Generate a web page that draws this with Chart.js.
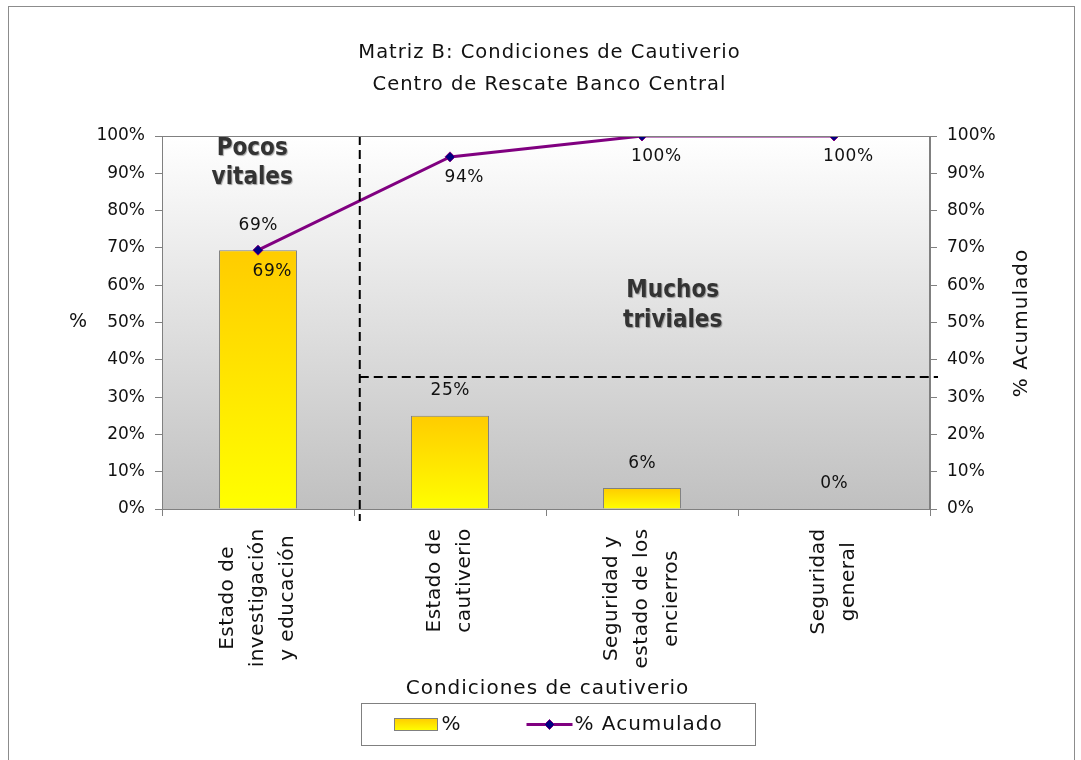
<!DOCTYPE html>
<html>
<head>
<meta charset="utf-8">
<script src="https://cdn.jsdelivr.net/npm/chart.js@4.4.0/dist/chart.umd.min.js"></script>
<style>
    html, body { margin: 0; padding: 0; background: #fff; overflow: hidden; }
    #frame {
        position: absolute; left: 8px; top: 6px;
        width: 1065px; height: 800px;
        border: 1px solid #8c8c8c;
    }
    #wrap { position: absolute; left: 0; top: 0; width: 1081px; height: 760px; }
</style>
</head>
<body>
<div id="frame"></div>
<div id="wrap"><canvas id="chart" width="1081" height="760"></canvas></div>
<script>
// datos del diagrama de Pareto
const titleLines = ['Matriz B: Condiciones de Cautiverio', 'Centro de Rescate Banco Central'];
const xTitle = 'Condiciones de cautiverio';
const categories = [
    ['Estado de', 'investigación', 'y educación'],
    ['Estado de', 'cautiverio'],
    ['Seguridad y', 'estado de los', 'encierros'],
    ['Seguridad', 'general']
];
const percentValues = [69.4, 25.0, 5.6, 0.0];
const cumulativeValues = [69.4, 94.4, 100, 100];
const yTicks = [0, 10, 20, 30, 40, 50, 60, 70, 80, 90, 100];

const FONT = "'DejaVu Sans', sans-serif";
const TEXT = '#111';
const AXIS = '#808080';

// posiciones de las notas (en unidades de los ejes)
const cutIndex = 0.53;      // linea vertical entre pocos vitales / muchos triviales
const cutValue = 35.4;      // linea horizontal

const pct = v => Math.round(v) + '%';

function barGradient(ctx) {
    const chart = ctx.chart;
    if (!chart.chartArea || ctx.type !== 'data') return '#FFE000';
    const y = chart.scales.y;
    const top = y.getPixelForValue(ctx.raw);
    const bottom = y.getPixelForValue(0);
    if (bottom - top < 1) return '#FFFF00';
    const g = chart.ctx.createLinearGradient(0, top, 0, bottom);
    g.addColorStop(0, '#FFCC00');
    g.addColorStop(1, '#FFFF00');
    return g;
}

function drawText(ctx, text, x, y, font, spacing, angle) {
    ctx.save();
    ctx.font = font;
    ctx.letterSpacing = (spacing || 0) + 'px';
    ctx.fillStyle = TEXT;
    ctx.textAlign = 'center';
    ctx.textBaseline = 'middle';
    ctx.translate(x + (angle ? 0 : (spacing || 0) / 2), y + (angle ? (spacing || 0) / 2 : 0));
    if (angle) ctx.rotate(angle);
    ctx.fillText(text, 0, 0);
    ctx.restore();
}

const backgroundPlugin = {
    id: 'plotBackground',
    beforeDraw(chart) {
        const { ctx, chartArea: a } = chart;
        const g = ctx.createLinearGradient(0, a.top, 0, a.bottom);
        g.addColorStop(0, '#FFFFFF');
        g.addColorStop(1, '#C0C0C0');
        ctx.save();
        ctx.fillStyle = g;
        ctx.fillRect(a.left, a.top, a.right - a.left, a.bottom - a.top);
        ctx.restore();
    },
    afterDraw(chart) {
        const { ctx, chartArea: a } = chart;
        ctx.save();
        ctx.strokeStyle = AXIS;
        ctx.lineWidth = 1;
        ctx.strokeRect(a.left + 0.5, a.top + 0.5, a.right - a.left - 1, a.bottom - a.top);
        ctx.restore();
    }
};

const notesPlugin = {
    id: 'paretoNotes',
    afterDatasetsDraw(chart) {
        const { ctx, chartArea: a, scales } = chart;
        const x = scales.x, y = scales.y;
        const cutX = x.getPixelForValue(cutIndex);
        const cutY = y.getPixelForValue(cutValue);

        ctx.save();
        ctx.strokeStyle = '#000';
        ctx.lineWidth = 2;
        ctx.setLineDash([9, 5]);
        ctx.beginPath();
        ctx.moveTo(cutX, a.top);
        ctx.lineTo(cutX, a.bottom + 12);
        ctx.moveTo(cutX, cutY);
        ctx.lineTo(a.right + 8, cutY);
        ctx.stroke();
        ctx.restore();

        // etiquetas de barras y del acumulado
        const labelFont = '17px ' + FONT;
        chart.getDatasetMeta(0).data.forEach((bar, i) => {
            drawText(ctx, pct(percentValues[i]), bar.x, bar.y - 25, labelFont, 0.5);
        });
        chart.getDatasetMeta(1).data.forEach((pt, i) => {
            drawText(ctx, pct(cumulativeValues[i]), pt.x + 14, pt.y + 21, labelFont, 0.5);
        });

        // textos "Pocos vitales" / "Muchos triviales"
        ctx.save();
        ctx.font = "bold 24px 'DejaVu Sans Condensed', 'DejaVu Sans', sans-serif";
        ctx.fillStyle = '#333';
        ctx.textAlign = 'center';
        ctx.textBaseline = 'middle';
        ctx.shadowColor = 'rgba(0,0,0,0.35)';
        ctx.shadowOffsetX = 1;
        ctx.shadowOffsetY = 1;
        ctx.shadowBlur = 1;
        const px = x.getPixelForValue(-0.03);
        ctx.fillText('Pocos', px, y.getPixelForValue(96.5));
        ctx.fillText('vitales', px, y.getPixelForValue(88.7));
        const mx = x.getPixelForValue(2.16);
        ctx.fillText('Muchos', mx, y.getPixelForValue(58.5));
        ctx.fillText('triviales', mx, y.getPixelForValue(50.5));
        ctx.restore();
    },
    afterDraw(chart) {
        const { ctx, chartArea: a, scales } = chart;
        const xs = scales.x;
        const midY = (a.top + a.bottom) / 2;

        // titulo del grafico
        const titleFont = '19.5px ' + FONT;
        titleLines.forEach((t, i) => drawText(ctx, t, 549, 53 + i * 32, titleFont, 1));

        // etiquetas de categorias (giradas, lineas centradas)
        const catFont = '20px ' + FONT;
        const catSpacing = 0.5;
        ctx.save();
        ctx.font = catFont;
        ctx.letterSpacing = catSpacing + 'px';
        categories.forEach((lines, i) => {
            const px = xs.getPixelForTick(i);
            const maxW = Math.max(...lines.map(l => ctx.measureText(l).width));
            const cy = a.bottom + 19 + maxW / 2;
            lines.forEach((l, j) => {
                drawText(ctx, l, px + (j - (lines.length - 1) / 2) * 30, cy, catFont, catSpacing, -Math.PI / 2);
            });
        });
        ctx.restore();

        // titulos de ejes
        drawText(ctx, xTitle, (xs.left + xs.right) / 2 + 1, 689, '20px ' + FONT, 1);
        drawText(ctx, '%', scales.y.left + 60, midY, '19px ' + FONT, 0);
        drawText(ctx, '% Acumulado', scales.y2.right - 59, midY, '20px ' + FONT, 1, -Math.PI / 2);

        // leyenda
        const lx = 361.5, ly = 703.5, lw = 394, lh = 42;
        const cy = ly + lh / 2;
        ctx.save();
        ctx.strokeStyle = AXIS;
        ctx.lineWidth = 1;
        ctx.strokeRect(lx, ly, lw, lh);

        const sw = ctx.createLinearGradient(0, cy - 6, 0, cy + 6);
        sw.addColorStop(0, '#FFCC00');
        sw.addColorStop(1, '#FFFF00');
        ctx.fillStyle = sw;
        ctx.fillRect(lx + 33, cy - 6, 43, 12);
        ctx.strokeRect(lx + 33, cy - 6, 43, 12);

        ctx.strokeStyle = '#800080';
        ctx.lineWidth = 3;
        ctx.beginPath();
        ctx.moveTo(lx + 165, cy);
        ctx.lineTo(lx + 211, cy);
        ctx.stroke();
        ctx.fillStyle = '#000080';
        ctx.strokeStyle = '#800080';
        ctx.lineWidth = 1;
        ctx.beginPath();
        ctx.moveTo(lx + 188, cy - 5);
        ctx.lineTo(lx + 193, cy);
        ctx.lineTo(lx + 188, cy + 5);
        ctx.lineTo(lx + 183, cy);
        ctx.closePath();
        ctx.fill();
        ctx.stroke();
        ctx.restore();

        ctx.save();
        ctx.font = '20px ' + FONT;
        ctx.letterSpacing = '1px';
        ctx.fillStyle = TEXT;
        ctx.textAlign = 'left';
        ctx.textBaseline = 'middle';
        ctx.fillText('%', lx + 80, cy);
        ctx.fillText('% Acumulado', lx + 213, cy);
        ctx.restore();
    }
};

new Chart(document.getElementById('chart'), {
    type: 'bar',
    data: {
        labels: categories,
        datasets: [
            {
                label: '%',
                data: percentValues,
                backgroundColor: barGradient,
                borderColor: AXIS,
                borderWidth: 1,
                borderSkipped: 'bottom',
                categoryPercentage: 1,
                barPercentage: 0.406,
                yAxisID: 'y',
                order: 2
            },
            {
                type: 'line',
                label: '% Acumulado',
                data: cumulativeValues,
                borderColor: '#800080',
                borderWidth: 3,
                pointStyle: 'rectRot',
                pointRadius: 5,
                pointBackgroundColor: '#000080',
                pointBorderColor: '#800080',
                pointBorderWidth: 1,
                tension: 0,
                yAxisID: 'y2',
                order: 1
            }
        ]
    },
    options: {
        responsive: false,
        animation: false,
        layout: { padding: { left: 18, right: 0, top: 136, bottom: 57 } },
        plugins: {
            legend: { display: false },
            tooltip: { enabled: false },
            title: { display: false }
        },
        scales: {
            x: {
                grid: { drawOnChartArea: false, color: AXIS, tickLength: 7, offset: true },
                border: { color: AXIS },
                ticks: { display: false },
                afterFit(scale) { scale.height = 194; }
            },
            y: {
                position: 'left',
                min: 0,
                max: 100,
                afterBuildTicks(scale) { scale.ticks = yTicks.map(v => ({ value: v })); },
                grid: { drawOnChartArea: false, color: AXIS, tickLength: 7 },
                border: { color: AXIS },
                ticks: { color: TEXT, padding: 10, font: { family: FONT, size: 17 }, callback: v => v + '%' },
                afterFit(scale) { scale.width = 144; }
            },
            y2: {
                position: 'right',
                min: 0,
                max: 100,
                afterBuildTicks(scale) { scale.ticks = yTicks.map(v => ({ value: v })); },
                grid: { drawOnChartArea: false, color: AXIS, tickLength: 7 },
                border: { color: AXIS },
                ticks: { color: TEXT, padding: 10, font: { family: FONT, size: 17 }, callback: v => v + '%' },
                afterFit(scale) { scale.width = 151; }
            }
        }
    },
    plugins: [backgroundPlugin, notesPlugin]
});
</script>
</body>
</html>
